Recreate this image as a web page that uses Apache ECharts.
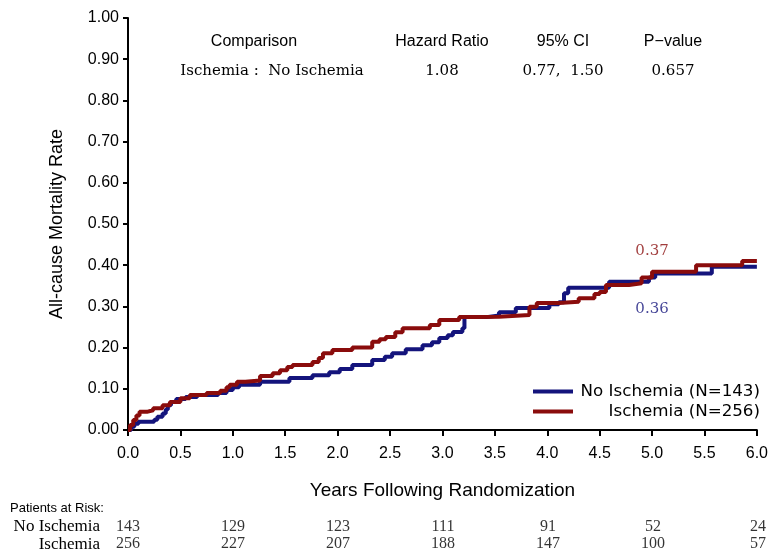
<!DOCTYPE html>
<html>
<head>
<meta charset="utf-8">
<script src="https://cdn.jsdelivr.net/npm/echarts@6/dist/echarts.min.js"></script>
<style>
  html, body { margin: 0; padding: 0; background: #ffffff; }
  #chart { width: 771px; height: 553px; }
</style>
</head>
<body>
<div id="chart"></div>
<script>
// Cumulative all-cause mortality (Kaplan-Meier complement), [years, rate]
const groupNames = ['No Ischemia (N=143)', 'Ischemia (N=256)'];

const noIschemia = [
  [0, 0], [0.03, 0.008], [0.06, 0.015], [0.1, 0.02], [0.25, 0.025], [0.28, 0.032],
  [0.33, 0.04], [0.36, 0.05], [0.38, 0.06], [0.41, 0.068], [0.46, 0.075], [0.55, 0.08],
  [0.66, 0.085], [0.86, 0.09], [0.94, 0.097], [1.0, 0.104], [1.06, 0.11], [1.26, 0.117],
  [1.54, 0.126], [1.76, 0.133], [1.92, 0.14], [2.02, 0.148], [2.14, 0.158], [2.33, 0.17],
  [2.45, 0.178], [2.52, 0.186], [2.65, 0.196], [2.81, 0.206], [2.9, 0.213], [2.97, 0.223],
  [3.05, 0.23], [3.1, 0.238], [3.19, 0.247], [3.21, 0.274], [3.42, 0.278], [3.54, 0.286],
  [3.7, 0.296], [4.02, 0.305], [4.11, 0.31], [4.16, 0.332], [4.2, 0.345], [4.59, 0.36],
  [4.97, 0.37], [5.03, 0.38], [5.57, 0.396], [6.0, 0.396]
];

const ischemia = [
  [0, 0], [0.02, 0.012], [0.05, 0.024], [0.08, 0.035], [0.11, 0.044], [0.18, 0.048],
  [0.24, 0.053], [0.33, 0.06], [0.4, 0.068], [0.5, 0.077], [0.59, 0.085], [0.75, 0.09],
  [0.88, 0.095], [0.94, 0.104], [0.97, 0.11], [1.04, 0.117], [1.12, 0.12], [1.26, 0.131],
  [1.38, 0.138], [1.45, 0.145], [1.52, 0.153], [1.57, 0.158], [1.76, 0.165], [1.82, 0.175],
  [1.86, 0.186], [1.95, 0.194], [2.14, 0.2], [2.33, 0.214], [2.4, 0.22], [2.46, 0.226],
  [2.55, 0.237], [2.62, 0.247], [2.88, 0.255], [2.97, 0.267], [3.16, 0.274], [3.35, 0.275],
  [3.54, 0.279], [3.83, 0.299], [3.9, 0.308], [4.11, 0.311], [4.3, 0.32], [4.45, 0.33],
  [4.5, 0.335], [4.56, 0.352], [4.78, 0.356], [4.9, 0.37], [5.0, 0.384], [5.42, 0.4],
  [5.86, 0.41], [6.0, 0.41]
];

// 5-year estimates printed beside the curves
const estimateYear = 5.0;
const estimateNoIschemia = 0.36;
const estimateIschemia = 0.37;

// Number at risk table
const riskYears = [0, 1, 2, 3, 4, 5, 6];
const riskRowNames = ['No Ischemia', 'Ischemia'];
const riskNoIschemia = [143, 129, 123, 111, 91, 52, 24];
const riskIschemia = [256, 227, 207, 188, 147, 100, 57];

// Hazard ratio summary
const summaryHeaders = ['Comparison', 'Hazard Ratio', '95% CI', 'P\u2212value'];
const summaryValues = ['Ischemia :  No Ischemia', '1.08', '0.77,  1.50', '0.657'];

const BLUE = '#14147c';
const RED = '#8a0c0c';
const SANS = '"Liberation Sans", Arial, sans-serif';
const SERIF_WIDE = '"DejaVu Serif", serif';
const SERIF = '"Liberation Serif", serif';
const LEGEND_FONT = '"DejaVu Sans", sans-serif';

const riskData = [];
riskYears.forEach((yr, i) => {
  riskData.push([yr, riskRowNames[0], riskNoIschemia[i]]);
  riskData.push([yr, riskRowNames[1], riskIschemia[i]]);
});

// Summary table: column centres
const colX = [254, 442, 563, 673];
const graphics = [];
summaryHeaders.forEach((t, i) => {
  graphics.push({
    type: 'text', x: colX[i], y: 42,
    style: { text: t, font: '16px ' + SANS, fill: '#000', textAlign: 'center', textVerticalAlign: 'middle' }
  });
});
summaryValues.forEach((t, i) => {
  graphics.push({
    type: 'text', x: i === 0 ? 272 : colX[i], y: 71,
    style: { text: t, font: '15px ' + SERIF_WIDE, fill: '#000', textAlign: 'center', textVerticalAlign: 'middle' }
  });
});
graphics.push({
  type: 'text', x: 10, y: 508,
  style: { text: 'Patients at Risk:', font: '13px ' + SANS, fill: '#000', textAlign: 'left', textVerticalAlign: 'middle' }
});

const chart = echarts.init(document.getElementById('chart'), null, { renderer: 'canvas' });

chart.setOption({
  animation: false,
  backgroundColor: '#ffffff',
  graphic: graphics,
  legend: {
    data: groupNames.map(n => ({ name: n, icon: 'rect' })),
    orient: 'vertical',
    left: 533,
    top: 383,
    padding: 0,
    itemWidth: 40,
    itemHeight: 4,
    itemGap: 3,
    textStyle: {
      fontFamily: LEGEND_FONT,
      fontSize: 16.7,
      color: '#000',
      rich: { n: { width: 182, height: 19, align: 'right', fontFamily: LEGEND_FONT, fontSize: 16.7, color: '#000' } }
    },
    formatter: name => '{n|' + name + '}'
  },
  grid: [
    { left: 128, right: 13, top: 18, height: 412 },
    { left: 128, right: 13, top: 518, height: 36 }
  ],
  xAxis: [
    {
      gridIndex: 0, type: 'value', min: 0, max: 6, interval: 0.5,
      name: 'Years Following Randomization', nameLocation: 'middle', nameGap: 51,
      nameTextStyle: { fontFamily: SANS, fontSize: 19, color: '#000' },
      axisLine: { lineStyle: { color: '#000', width: 2 } },
      axisTick: { length: 6, lineStyle: { color: '#000', width: 2 } },
      axisLabel: { margin: 16, fontFamily: SANS, fontSize: 16, color: '#000', formatter: v => v.toFixed(1) },
      splitLine: { show: false }
    },
    {
      gridIndex: 1, type: 'value', min: 0, max: 6, show: false
    }
  ],
  yAxis: [
    {
      gridIndex: 0, type: 'value', min: 0, max: 1, interval: 0.1,
      name: 'All-cause Mortality Rate', nameLocation: 'middle', nameGap: 62,
      nameTextStyle: { fontFamily: SANS, fontSize: 18, color: '#000' },
      axisLine: { show: true, lineStyle: { color: '#000', width: 2 } },
      axisTick: { show: true, length: 5, lineStyle: { color: '#000', width: 2 } },
      axisLabel: { margin: 9, fontFamily: SANS, fontSize: 16, color: '#000', formatter: v => v.toFixed(2) },
      splitLine: { show: false }
    },
    {
      gridIndex: 1, type: 'category', data: [riskRowNames[1], riskRowNames[0]],
      axisLine: { show: false }, axisTick: { show: false },
      axisLabel: { interval: 0, margin: 28, fontFamily: SERIF, fontSize: 17, color: '#000' },
      splitLine: { show: false }
    }
  ],
  series: [
    {
      name: groupNames[0], type: 'line', step: 'end', data: noIschemia,
      xAxisIndex: 0, yAxisIndex: 0, symbol: 'none', z: 3,
      lineStyle: { color: BLUE, width: 4 }, itemStyle: { color: BLUE }
    },
    {
      name: groupNames[1], type: 'line', step: 'end', data: ischemia,
      xAxisIndex: 0, yAxisIndex: 0, symbol: 'none', z: 4,
      lineStyle: { color: RED, width: 4 }, itemStyle: { color: RED }
    },
    {
      name: 'estimate-ischemia', type: 'scatter', xAxisIndex: 0, yAxisIndex: 0,
      data: [[estimateYear, estimateIschemia]], symbolSize: 0, silent: true,
      label: {
        show: true, position: 'inside', offset: [0, -26], color: RED,
        fontFamily: SERIF_WIDE, fontSize: 15, formatter: p => p.value[1].toFixed(2)
      }
    },
    {
      name: 'estimate-no-ischemia', type: 'scatter', xAxisIndex: 0, yAxisIndex: 0,
      data: [[estimateYear, estimateNoIschemia]], symbolSize: 0, silent: true,
      label: {
        show: true, position: 'inside', offset: [0, 27], color: BLUE,
        fontFamily: SERIF_WIDE, fontSize: 15, formatter: p => p.value[1].toFixed(2)
      }
    },
    {
      name: 'at-risk', type: 'scatter', xAxisIndex: 1, yAxisIndex: 1,
      data: riskData, symbolSize: 0, silent: true,
      label: {
        show: true, position: 'inside', color: '#000',
        fontFamily: SERIF, fontSize: 16, formatter: p => String(p.value[2])
      }
    }
  ]
});
</script>
</body>
</html>
